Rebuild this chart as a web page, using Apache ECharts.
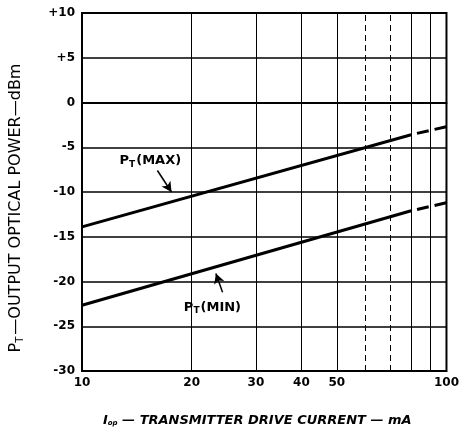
<!DOCTYPE html>
<html><head><meta charset="utf-8">
<script src="https://cdn.jsdelivr.net/npm/echarts@6/dist/echarts.min.js"></script>
<style>html,body{margin:0;padding:0;background:#fff}#c{width:462px;height:432px}</style>
</head><body><div id="c"></div>
<script>
// Data (x: mA, y: dBm)
var xTickLabels = [10, 20, 30, 40, 50, 100];
var xGridValues = [20, 30, 40, 50, 60, 70, 80, 90];
var xGridDashed = [false, false, false, false, true, true, false, false];
var yTicks = [-30, -25, -20, -15, -10, -5, 0, 5, 10];
var maxSolid = [[10, -13.9], [80, -3.6]];
var maxDashed = [[80, -3.6], [100, -2.7]];
var minSolid = [[10, -22.65], [80, -12.1]];
var minDashed = [[80, -12.1], [100, -11.2]];
// annotation anchors in data space
var maxLabelPos = [15.4, -6.5];
var maxArrow = [[16.1, -7.6], [17.6, -10.0]];
var minLabelPos = [22.8, -22.9];
var minArrow = [[24.3, -21.2], [23.3, -19.1]];

var chart = echarts.init(document.getElementById('c'), null, {renderer: 'canvas'});
var font = 'DejaVu Sans, sans-serif';
var richSub = {
  p: {fontSize: 13, fontWeight: 'bold', fontFamily: font, color: '#000'},
  s: {fontSize: 9, fontWeight: 'bold', fontFamily: font, color: '#000', padding: [7, 1, 0, 0]}
};

var vLines = xGridValues.map(function (v, i) {
  return {xAxis: v, lineStyle: {type: xGridDashed[i] ? [6, 4] : 'solid'}};
});

chart.setOption({
  animation: false,
  grid: {left: 82, right: 15, top: 13, bottom: 60, show: true, borderColor: '#000', borderWidth: 2, backgroundColor: 'transparent'},
  xAxis: {
    type: 'log', logBase: 10, min: 10, max: 100,
    axisLine: {show: true, lineStyle: {color: '#000', width: 2}},
    axisTick: {show: false},
    splitLine: {show: false},
    axisLabel: {customValues: xTickLabels, color: '#000', fontSize: 12, fontWeight: 'bold', fontFamily: font, margin: 6},
    name: '{i|I}{s|op}{t| — TRANSMITTER DRIVE CURRENT — mA}',
    nameLocation: 'middle', nameGap: 43,
    nameTextStyle: {
      rich: {
        i: {fontSize: 13, fontWeight: 'bold', fontStyle: 'italic', fontFamily: font, color: '#000'},
        s: {fontSize: 7, fontWeight: 'bold', fontStyle: 'italic', fontFamily: font, color: '#000', padding: [6, 0, 0, 0]},
        t: {fontSize: 13, fontWeight: 'bold', fontStyle: 'italic', fontFamily: font, color: '#000'}
      },
      padding: [0, 14, 0, 0]
    }
  },
  yAxis: {
    type: 'value', min: -30, max: 10, interval: 5,
    axisLine: {show: true, lineStyle: {color: '#000', width: 2}},
    axisTick: {show: false},
    splitLine: {show: true, lineStyle: {color: '#000', width: 1.5}},
    axisLabel: {
      color: '#000', fontSize: 12, fontWeight: 'bold', fontFamily: font, margin: 7,
      formatter: function (v) { return v > 0 ? '+' + v : String(v); }
    },
    name: '{p|P}{s|T}{p|—OUTPUT OPTICAL POWER—dBm}',
    nameLocation: 'middle', nameGap: 57, nameRotate: 90,
    nameTextStyle: {
      rich: {
        p: {fontSize: 16, fontFamily: font, color: '#000', fontWeight: 'normal'},
        s: {fontSize: 10, fontFamily: font, color: '#000', fontWeight: 'normal', padding: [8, 2, 0, 0]}
      },
      padding: [0, 32, 0, 0]
    }
  },
  series: [
    {type: 'line', data: maxSolid, showSymbol: false, lineStyle: {color: '#000', width: 3}, z: 5,
     markLine: {silent: true, symbol: ['none', 'none'], label: {show: false},
                lineStyle: {color: '#000', width: 1}, data: vLines}},
    {type: 'line', data: maxDashed, showSymbol: false, lineStyle: {color: '#000', width: 3, type: [12, 6], dashOffset: 12}, z: 5},
    {type: 'line', data: minSolid, showSymbol: false, lineStyle: {color: '#000', width: 3}, z: 5},
    {type: 'line', data: minDashed, showSymbol: false, lineStyle: {color: '#000', width: 3, type: [12, 6], dashOffset: 12}, z: 5},
    {type: 'scatter', data: [], z: 6,
     markPoint: {symbol: 'rect', symbolSize: 0,
       label: {show: true, position: 'inside', rich: richSub, formatter: function (p) { return p.name; }},
       data: [
         {name: '{p|P}{s|T}{p|(MAX)}', coord: maxLabelPos},
         {name: '{p|P}{s|T}{p|(MIN)}', coord: minLabelPos}
       ]},
     markLine: {silent: true, symbol: ['none', 'arrow'], symbolSize: [8, 10], label: {show: false},
       lineStyle: {color: '#000', width: 1.5, type: 'solid'},
       data: [
         [{coord: maxArrow[0]}, {coord: maxArrow[1]}],
         [{coord: minArrow[0]}, {coord: minArrow[1]}]
       ]}
    }
  ]
});
</script></body></html>
